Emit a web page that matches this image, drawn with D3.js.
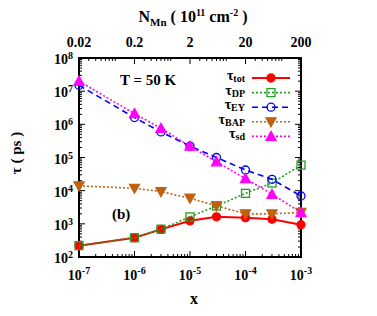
<!DOCTYPE html>
<html>
<head>
<meta charset="utf-8">
<script src="https://cdn.jsdelivr.net/npm/d3@7"></script>
<style>
  body { margin: 0; background: #fff; }
  svg text { font-family: "Liberation Serif", "Times New Roman", serif; font-weight: bold; }
</style>
</head>
<body>
<svg id="drawing_region"></svg>
<script>
// Mn concentration x and the spin relaxation times (ps)
const xs     = [1e-7, 1e-6, 3e-6, 1e-5, 3e-5, 1e-4, 3e-4, 1e-3];
const tauTot = [220, 380, 680, 1230, 1630, 1520, 1380, 940];
const tauDP  = [220, 380, 690, 1620, 3450, 8300, 17000, 59000];
const tauEY  = [1.5e7, 1.6e6, 5.9e5, 2.2e5, 1.0e5, 4.2e4, 2.2e4, 6900];
const tauBAP = [1.4e4, 1.18e4, 9400, 5900, 3500, 2000, 2000, 2200];
const tauSD  = [2.0e7, 2.1e6, 7.6e5, 2.2e5, 7.4e4, 2.3e4, 7800, 2200];

const xTicks = [1e-7, 1e-6, 1e-5, 1e-4, 1e-3];
const yTicks = [1e2, 1e3, 1e4, 1e5, 1e6, 1e7, 1e8];
const nTicks = [0.02, 0.2, 2, 20, 200];
const nLabels = ['0.02', '0.2', '2', '20', '200'];

const series = [
    { name: 'tot', values: tauTot, color: '#ff0000', dash: null,  marker: 'circle', fill: true },
    { name: 'DP',  values: tauDP,  color: '#22a022', dash: '2,2', marker: 'square', fill: false },
    { name: 'EY',  values: tauEY,  color: '#0000ff', dash: '6,4', marker: 'circle', fill: false },
    { name: 'BAP', values: tauBAP, color: '#c06010', dash: '2,2', marker: 'tdown', fill: true },
    { name: 'sd',  values: tauSD,  color: '#ff00ff', dash: '2,2', marker: 'tup', fill: true }
];

const width = 377, height = 316;
const margin = { left: 79, right: 76, top: 58, bottom: 59 };
const svg = d3.select('#drawing_region').attr('width', width).attr('height', height);

const x = d3.scaleLog().domain([1e-7, 1e-3]).range([margin.left, width - margin.right]);
const y = d3.scaleLog().domain([1e2, 1e8]).range([height - margin.bottom, margin.top]);
const xn = d3.scaleLog().domain([0.02, 200]).range([margin.left, width - margin.right]);

// minor ticks: 2..9 per decade
function minors(lo, hi) {
    const out = [];
    for (let e = lo; e < hi; e++) for (let k = 2; k <= 9; k++) out.push(k * Math.pow(10, e));
    return out;
}
const xMinor = minors(-7, -3);
const yMinor = minors(2, 8);
const nMinor = minors(-2, 3).filter(v => v > 0.021 && v < 199 && [0.2, 2, 20].every(t => Math.abs(v - t) > 1e-9 * t));

const fx = margin.left, fy = margin.top, fw = width - margin.left - margin.right, fh = height - margin.top - margin.bottom;
const tickG = svg.append('g').attr('stroke', '#000').attr('stroke-width', 1);

xTicks.forEach(v => {
    tickG.append('line').attr('x1', x(v)).attr('x2', x(v)).attr('y1', fy + fh).attr('y2', fy + fh - 6);
});
xMinor.forEach(v => {
    tickG.append('line').attr('x1', x(v)).attr('x2', x(v)).attr('y1', fy + fh).attr('y2', fy + fh - 3);
});
nTicks.forEach(v => {
    tickG.append('line').attr('x1', xn(v)).attr('x2', xn(v)).attr('y1', fy).attr('y2', fy + 6);
});
nMinor.forEach(v => {
    tickG.append('line').attr('x1', xn(v)).attr('x2', xn(v)).attr('y1', fy).attr('y2', fy + 3);
});
yTicks.forEach(v => {
    tickG.append('line').attr('x1', fx).attr('x2', fx + 6).attr('y1', y(v)).attr('y2', y(v));
    tickG.append('line').attr('x1', fx + fw).attr('x2', fx + fw - 6).attr('y1', y(v)).attr('y2', y(v));
});
yMinor.forEach(v => {
    tickG.append('line').attr('x1', fx).attr('x2', fx + 3).attr('y1', y(v)).attr('y2', y(v));
    tickG.append('line').attr('x1', fx + fw).attr('x2', fx + fw - 3).attr('y1', y(v)).attr('y2', y(v));
});

svg.append('rect').attr('x', fx).attr('y', fy).attr('width', fw).attr('height', fh)
    .attr('fill', 'none').attr('stroke', '#000').attr('stroke-width', 2);

// tick labels
function exp(v) { return Math.round(Math.log10(v)); }
xTicks.forEach(v => {
    const t = svg.append('text').attr('x', x(v)).attr('y', 280).attr('text-anchor', 'middle').style('font-size', '14px');
    t.append('tspan').text('10');
    t.append('tspan').attr('dy', -6).style('font-size', '10px').text(exp(v));
});
yTicks.forEach(v => {
    const t = svg.append('text').attr('x', fx - 6).attr('y', y(v) + 6).attr('text-anchor', 'end').style('font-size', '14px');
    t.append('tspan').text('10');
    t.append('tspan').attr('dy', -5).style('font-size', '10px').text(exp(v));
});
nTicks.forEach((v, i) => {
    svg.append('text').attr('x', xn(v)).attr('y', 47).attr('text-anchor', 'middle').style('font-size', '14px').text(nLabels[i]);
});

// axis titles
const topTitle = svg.append('text').attr('x', 193).attr('y', 22).attr('text-anchor', 'middle').style('font-size', '16px');
topTitle.append('tspan').text('N');
topTitle.append('tspan').attr('dy', 4).style('font-size', '11px').text('Mn');
topTitle.append('tspan').attr('dy', -4).text('\u00a0( 10');
topTitle.append('tspan').attr('dy', -6).style('font-size', '10px').text('11');
topTitle.append('tspan').attr('dy', 6).text(' cm');
topTitle.append('tspan').attr('dy', -6).style('font-size', '10px').text('-2');
topTitle.append('tspan').attr('dy', 6).text(' )');

svg.append('text').attr('x', 194).attr('y', 304).attr('text-anchor', 'middle').style('font-size', '16px').text('x');
svg.append('text').attr('transform', 'translate(21,153) rotate(-90)').attr('text-anchor', 'middle')
    .style('font-size', '15px').text('\u03c4 ( ps )');

svg.append('text').attr('x', 120).attr('y', 85).style('font-size', '15px').text('T = 50 K');
svg.append('text').attr('x', 112).attr('y', 219).style('font-size', '15px').text('(b)');

// markers
function drawMarker(g, cx, cy, s) {
    const r = 4;
    let m;
    if (s.marker === 'circle') {
        m = g.append('circle').attr('cx', cx).attr('cy', cy).attr('r', r);
    } else if (s.marker === 'square') {
        m = g.append('rect').attr('x', cx - r).attr('y', cy - r).attr('width', 2 * r).attr('height', 2 * r);
    } else if (s.marker === 'tup') {
        m = g.append('path').attr('d', `M${cx},${cy - 5}L${cx + 5},${cy + 4}L${cx - 5},${cy + 4}Z`);
    } else {
        m = g.append('path').attr('d', `M${cx},${cy + 5}L${cx + 5},${cy - 4}L${cx - 5},${cy - 4}Z`);
    }
    m.attr('fill', s.fill ? s.color : 'none').attr('stroke', s.color).attr('stroke-width', 1.3);
}

const line = d3.line().x(d => x(d[0])).y(d => y(d[1]));
const plot = svg.append('g');
series.forEach(s => {
    const pts = xs.map((v, i) => [v, s.values[i]]);
    plot.append('path').datum(pts).attr('d', line).attr('fill', 'none')
        .attr('stroke', s.color).attr('stroke-width', s.dash ? 1.6 : 2)
        .attr('stroke-dasharray', s.dash);
    pts.forEach(p => drawMarker(plot, x(p[0]), y(p[1]), s));
});

// legend
const lg = svg.append('g');
series.forEach((s, i) => {
    const ly = 78 + i * 14.6;
    lg.append('line').attr('x1', 252).attr('x2', 290).attr('y1', ly).attr('y2', ly)
        .attr('stroke', s.color).attr('stroke-width', s.dash ? 1.6 : 2).attr('stroke-dasharray', s.dash);
    drawMarker(lg, 271, ly, s);
    const t = lg.append('text').attr('x', 245).attr('y', ly + 2).attr('text-anchor', 'end').style('font-size', '14px');
    t.append('tspan').text('\u03c4');
    t.append('tspan').attr('dy', 2).style('font-size', '10px').text(s.name);
});
</script>
</body>
</html>
